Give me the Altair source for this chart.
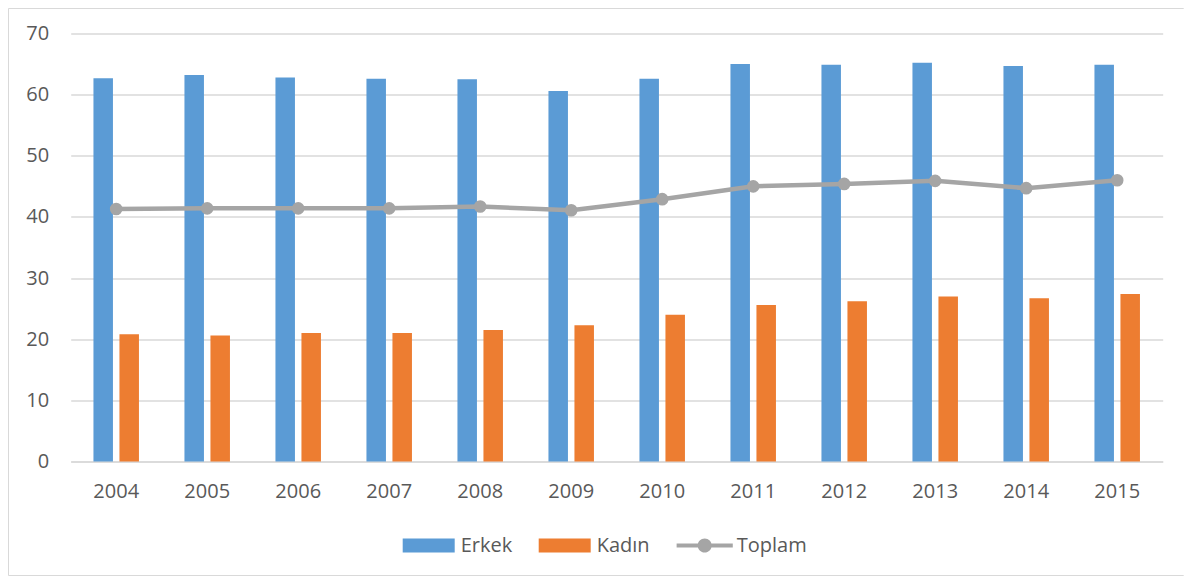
import altair as alt
import pandas as pd

years = ["2004", "2005", "2006", "2007", "2008", "2009", "2010", "2011", "2012", "2013", "2014", "2015"]
erkek = [62.7, 63.2, 62.8, 62.6, 62.5, 60.6, 62.6, 65.0, 64.9, 65.2, 64.7, 64.9]
kadin = [20.8, 20.6, 21.0, 21.0, 21.5, 22.3, 24.0, 25.6, 26.2, 27.0, 26.7, 27.4]
toplam = [41.3, 41.4, 41.4, 41.4, 41.7, 41.1, 42.9, 45.0, 45.4, 45.9, 44.7, 46.0]

series = ["Erkek", "Kadın", "Toplam"]
colors = ["#5B9BD5", "#ED7D31", "#A5A5A5"]
legend_shapes = [
    "M-1,-0.27H1V0.27H-1Z",
    "M-1,-0.27H1V0.27H-1Z",
    "M-1.08,-0.08H1.08V0.08H-1.08Z M0.27,0A0.27,0.27 0 1,1 -0.27,0A0.27,0.27 0 1,1 0.27,0Z",
]

df = pd.DataFrame({
    "Yil": years * 3,
    "Seri": ["Erkek"] * len(years) + ["Kadın"] * len(years) + ["Toplam"] * len(years),
    "Deger": erkek + kadin + toplam,
})

FONT = "Open Sans"
GRID = "#d9d9d9"
TXT = "#595959"

x_enc = alt.X(
    "Yil:N", sort=years, title=None,
    scale=alt.Scale(paddingInner=0.5, paddingOuter=0.25),
    axis=alt.Axis(labelAngle=0, labelFont=FONT, labelFontSize=20, labelColor=TXT,
                  labelPadding=20, ticks=False, domain=True, domainColor=GRID,
                  domainWidth=1.5, grid=False),
)
y_enc = alt.Y(
    "Deger:Q", title=None,
    scale=alt.Scale(domain=[0, 70], nice=False),
    axis=alt.Axis(values=[0, 10, 20, 30, 40, 50, 60, 70], labelFont=FONT, labelFontSize=20,
                  labelColor=TXT, labelPadding=22, ticks=False, domain=False,
                  gridColor=GRID, gridWidth=1.3),
)

color_enc = alt.Color("Seri:N", title=None, scale=alt.Scale(domain=series, range=colors))

base = alt.Chart(df)

bars = base.transform_filter(
    alt.FieldOneOfPredicate(field="Seri", oneOf=["Erkek", "Kadın"])
).mark_bar().encode(
    x=x_enc,
    xOffset=alt.XOffset("Seri:N", sort=["Erkek", "Kadın"],
                        scale=alt.Scale(paddingInner=0.25, paddingOuter=0)),
    y=y_enc,
    color=color_enc,
)

tot = base.transform_filter(alt.datum.Seri == "Toplam")
line = tot.mark_line(color="#A5A5A5", strokeWidth=4.5).encode(x=x_enc, y=y_enc)
points = tot.mark_circle(color="#A5A5A5", size=160, opacity=1).encode(x=x_enc, y=y_enc)

legend_layer = base.mark_point(filled=True, opacity=0).encode(
    x=x_enc, y=y_enc,
    color=color_enc,
    shape=alt.Shape("Seri:N", title=None, scale=alt.Scale(domain=series, range=legend_shapes)),
)

frame_df = pd.DataFrame({"k": [0]})
frame_left = alt.Chart(frame_df).mark_rule(color=GRID, strokeWidth=1).encode(
    x=alt.value(-62.2), y=alt.value(-25), y2=alt.value(542))
frame_top = alt.Chart(frame_df).mark_rule(color=GRID, strokeWidth=1).encode(
    x=alt.value(-62.2), x2=alt.value(1113), y=alt.value(-25))
frame_bottom = alt.Chart(frame_df).mark_rule(color=GRID, strokeWidth=1).encode(
    x=alt.value(-62.2), x2=alt.value(1113), y=alt.value(542))

chart = alt.layer(
    frame_left, frame_top, frame_bottom, bars, line, points, legend_layer
).properties(
    width=1092, height=428,
    autosize=alt.AutoSizeParams(type="none"),
    padding={"left": 62.7, "top": 25.5, "right": 21.3, "bottom": 114.5},
).configure_view(
    stroke=None
).configure_legend(
    orient="none", legendX=332, legendY=486, direction="horizontal",
    labelFont=FONT, labelFontSize=20, labelColor=TXT, labelOffset=6,
    columnPadding=26, symbolSize=2704, symbolStrokeWidth=0, symbolOpacity=1,
)

chart.save("out.html", embed_options={"renderer": "svg", "actions": False})
